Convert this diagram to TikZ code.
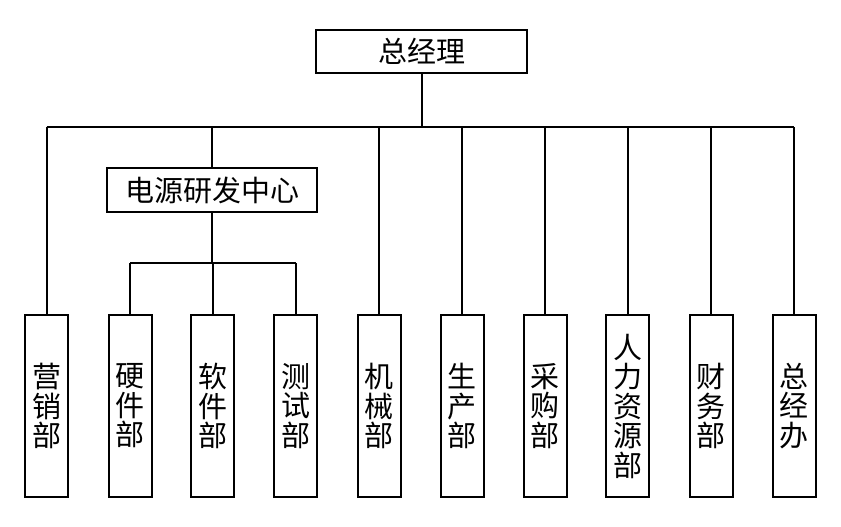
\documentclass[tikz,border=0pt]{standalone}
\usepackage{fontspec}
\newfontfamily\cjk{Noto Sans CJK SC}
\begin{document}
\begin{tikzpicture}[x=1pt,y=-1pt,
  box/.style={draw, line width=2pt, inner sep=0pt, font=\cjk\fontsize{29}{29.5}\selectfont},
  vbox/.style={box, minimum width=43pt, minimum height=182pt, align=center},
  conn/.style={line width=2pt}]
\useasboundingbox (0,0) rectangle (841,527);
\node[box, minimum width=211pt, minimum height=43pt] (top) at (421.5,51.5) {总经理};
\node[box, minimum width=210pt, minimum height=44pt] (mid) at (212,190) {电源研发中心};
\node[vbox] (b1) at (46.5,406) {营\\销\\部};
\node[vbox] (b2) at (130,406) {硬\\件\\部};
\node[vbox] (b3) at (212.5,406) {软\\件\\部};
\node[vbox] (b4) at (295.5,406) {测\\试\\部};
\node[vbox] (b5) at (379,406) {机\\械\\部};
\node[vbox] (b6) at (462,406) {生\\产\\部};
\node[vbox] (b7) at (545,406) {采\\购\\部};
\node[vbox] (b8) at (627.5,406) {人\\力\\资\\源\\部};
\node[vbox] (b9) at (711,406) {财\\务\\部};
\node[vbox] (b10) at (794,406) {总\\经\\办};
\coordinate (bus) at (0,127);
\coordinate (sub) at (0,263);
\draw[conn] (top.south) -- (top.south |- bus);
\draw[conn] (b1.north |- bus) -- (b10.north |- bus);
\foreach \b in {b1,b5,b6,b7,b8,b9,b10} \draw[conn] (\b.north |- bus) -- (\b.north);
\draw[conn] (mid.north |- bus) -- (mid.north);
\draw[conn] (mid.south) -- (mid.south |- sub);
\draw[conn] (b2.north |- sub) -- (b4.north |- sub);
\foreach \b in {b2,b3,b4} \draw[conn] (\b.north |- sub) -- (\b.north);
\end{tikzpicture}
\end{document}
